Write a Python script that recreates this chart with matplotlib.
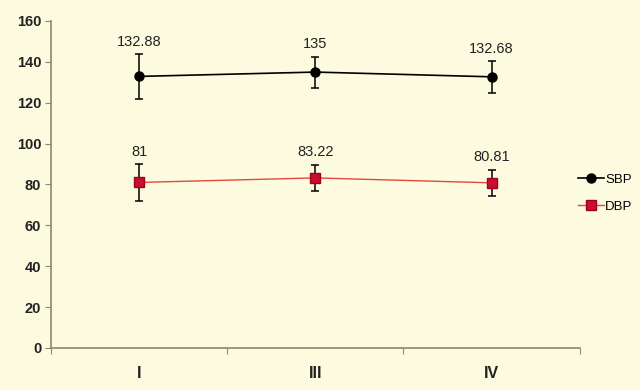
import matplotlib
matplotlib.use("Agg")
import matplotlib.pyplot as plt
from matplotlib.ticker import FixedLocator
from matplotlib.lines import Line2D

categories = ["I", "III", "IV"]
sbp = [132.88, 135, 132.68]
sbp_err = [10.9, 7.6, 7.7]
dbp = [81, 83.22, 80.81]
dbp_err = [8.9, 6.3, 6.5]
yticks = [0, 20, 40, 60, 80, 100, 120, 140, 160]

bg = "#FCFADF"
axis_col = "#8a8a6a"
plt.rcParams['font.family'] = ['Liberation Sans', 'DejaVu Sans']

fig = plt.figure(figsize=(6.4, 3.9), dpi=100, facecolor=bg)
ax = fig.add_axes([0.0797, 0.1077, 0.826, 0.8385], facecolor=bg)

x = list(range(len(categories)))
ax.errorbar(x, sbp, yerr=sbp_err, color="black", lw=1.2, marker="o", ms=6.5,
            ecolor="black", elinewidth=1.1, capsize=3, capthick=1.1, zorder=3)
ax.errorbar(x, dbp, yerr=dbp_err, color="#e04a3a", lw=1.0, marker="s", ms=6.5,
            mfc="#c8102e", mec="#a00020", ecolor="black", elinewidth=1.1,
            capsize=3, capthick=1.1, zorder=3)

for xi, v, e in zip(x, sbp, sbp_err):
    ax.annotate(f"{v:g}", (xi, v + e), xytext=(0, 4), textcoords="offset points",
                ha="center", va="bottom", fontsize=10.5, color="#222222")
for xi, v, e in zip(x, dbp, dbp_err):
    ax.annotate(f"{v:g}", (xi, v + e), xytext=(0, 4), textcoords="offset points",
                ha="center", va="bottom", fontsize=10.5, color="#222222")

ax.set_xlim(-0.5, len(categories) - 0.5)
ax.set_ylim(0, 160)
ax.set_yticks(yticks)
ax.set_yticklabels([str(t) for t in yticks], fontsize=10.5, fontweight="bold",
                   color="#222222")
ax.xaxis.set_major_locator(FixedLocator([i - 0.5 for i in range(len(categories) + 1)]))
ax.set_xticklabels([])
ax.set_xticks(x, minor=True)
ax.set_xticklabels(categories, minor=True, fontsize=11.5, fontweight="bold",
                   color="#222222")
ax.tick_params(axis="x", which="minor", length=0, pad=13)
ax.tick_params(axis="x", which="major", length=4, color=axis_col, direction="out")
ax.tick_params(axis="y", length=4, color=axis_col, direction="out", pad=3)

for s in ["top", "right"]:
    ax.spines[s].set_visible(False)
for s in ["left", "bottom"]:
    ax.spines[s].set_color(axis_col)
    ax.spines[s].set_linewidth(1.2)

handles = [
    Line2D([], [], color="black", lw=1.2, marker="o", ms=6.5),
    Line2D([], [], color="#e04a3a", lw=1.0, marker="s", ms=6.5, mfc="#c8102e", mec="#a00020"),
]
fig.legend(handles, ["SBP", "DBP"], loc="center left", bbox_to_anchor=(0.888, 0.505),
           frameon=False, fontsize=9.5, handlelength=2.0,
           handletextpad=0.1, labelspacing=1.1, borderpad=0.2)

fig.savefig("out.png", dpi=100, facecolor=bg)
